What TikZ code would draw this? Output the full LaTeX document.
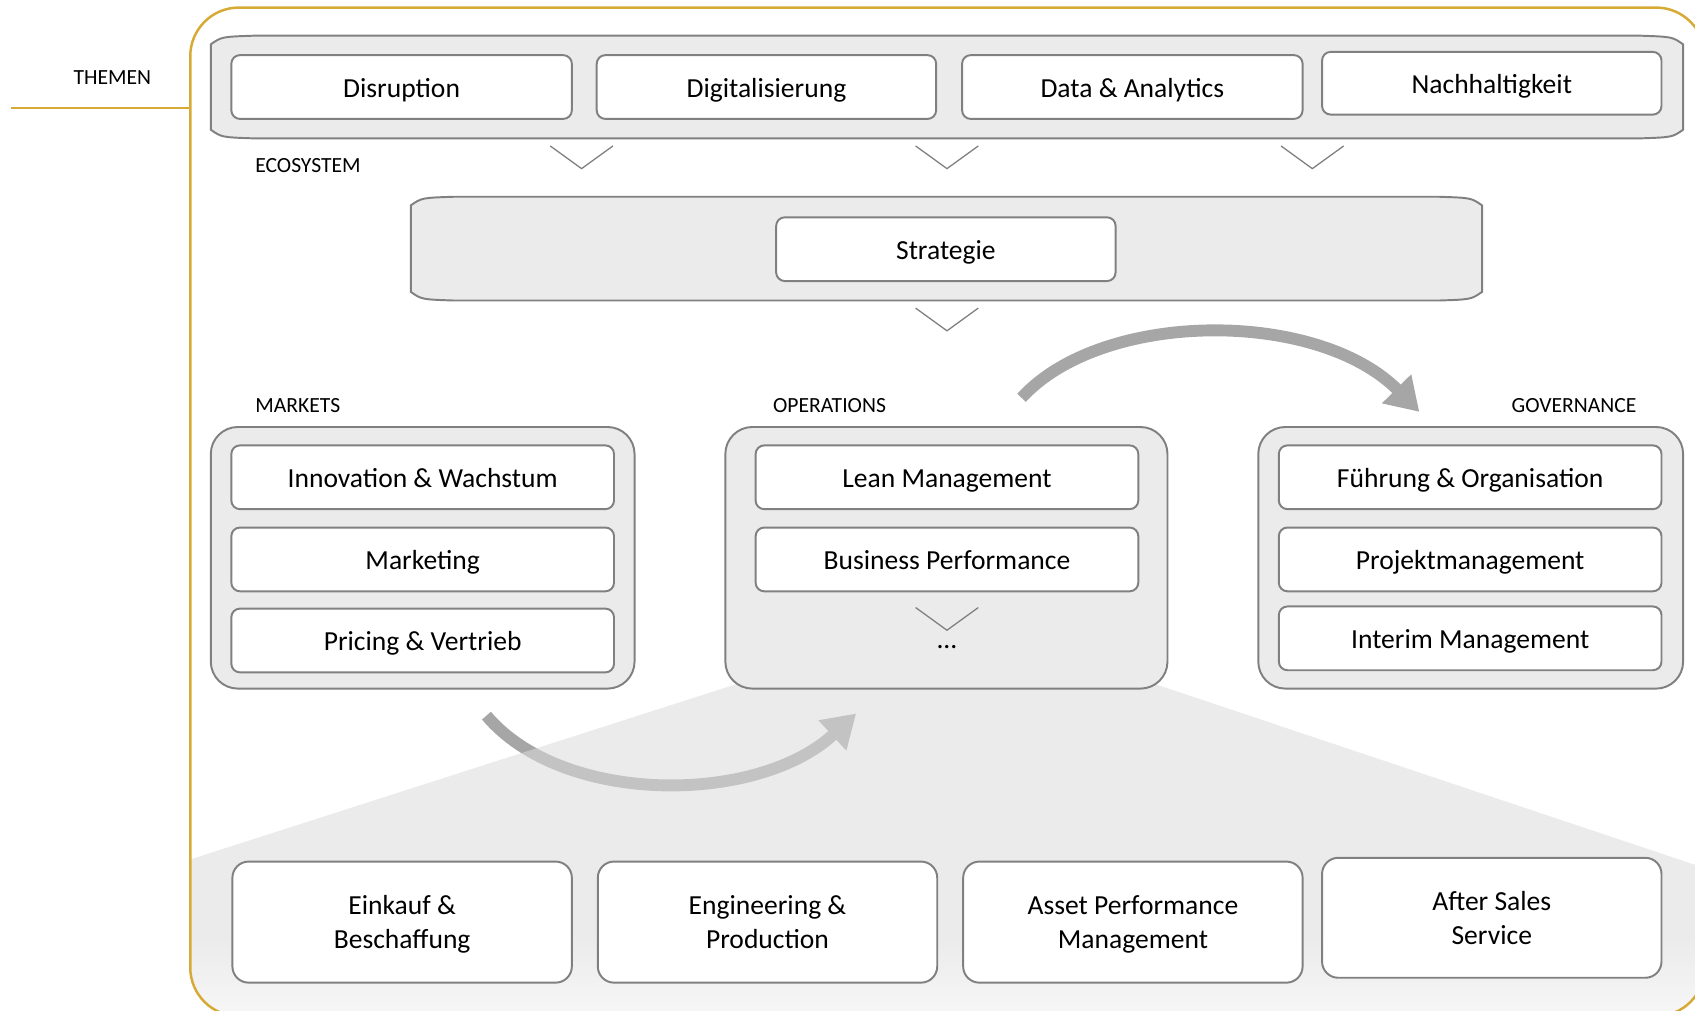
\documentclass[tikz,border=0pt]{standalone}
\usepackage{fontspec}
\setmainfont{Carlito}
\usetikzlibrary{arrows.meta}

\definecolor{gold}{RGB}{214,170,52}
\definecolor{rim}{RGB}{128,128,128}
\definecolor{pane}{RGB}{235,235,235}
\definecolor{arc}{RGB}{166,166,166}
\definecolor{fan}{RGB}{219,219,219}

% grey band with pinched ends: \tapeband{x0}{y0}{x1}{y1}
\newcommand{\tapeband}[4]{%
  \draw[rim, fill=pane, line width=1.8] (#1,#2+8) .. controls (#1+10,#2+1) .. (#1+40,#2) -- (#3-40,#2)
    .. controls (#3-10,#2+1) .. (#3,#2+8) -- (#3,#4-8) .. controls (#3-10,#4-1) .. (#3-40,#4)
    -- (#1+40,#4) .. controls (#1+10,#4-1) .. (#1,#4-8) -- cycle;}

\begin{document}
\begin{tikzpicture}[x=1pt, y=-1pt,
    item/.style={draw=rim, fill=white, line width=1.8, rounded corners=8, minimum height=59, inner sep=0,
      text height=19, text depth=0, font=\fontsize{25.5}{30}\selectfont},
    tile/.style={draw=rim, fill=white, line width=1.8, rounded corners=15, minimum width=314, minimum height=112,
      inner sep=0, align=center, text depth=0, font=\fontsize{25.5}{31}\selectfont},
    pool/.style={draw=rim, fill=pane, line width=1.8, rounded corners=25, minimum height=242, inner sep=0},
    tag/.style={font=\fontsize{20}{24}\selectfont, inner sep=0},
    flow/.style={arc, line width=11, -{Triangle[length=30pt,width=36pt]}},
    chev/.pic={\draw[rim, line width=1.2] (-29,0) -- (0,21) -- (29,0);}]
	\path[use as bounding box, clip] (0,0) rectangle (1568,935);

	% arrow below, partly veiled by the fan
	\coordinate (b1) at (450,662);
	\coordinate (b2) at (792,660);
	\draw[flow] (b1) .. controls (520,745) and (700,745) .. (b2);

	% fan opening from operations to the process row
	\begin{scope}
		\clip[rounded corners=45] (176,7) rectangle (1577,940);
		\fill[fan, fill opacity=.55] (690,630) -- (176,795) -- (176,945) -- (1580,945) -- (1580,804) -- (1060,630) -- cycle;
		\shade[top color=pane, bottom color=black!3] (170,868) rectangle (1585,945);
	\end{scope}

	% frame
	\draw[gold, line width=2.3, rounded corners=45] (176,7) rectangle (1577,940);
	\node[tag] (themen) at (104,72) {THEMEN};
	\coordinate (rule) at (10,100);
	\draw[gold, line width=2.3] (rule) -- (176,100);

	% themen
	\tapeband{195}{33}{1557}{128}
	\node[item, minimum width=315] (disr) at (371.5,80.5) {Disruption};
	\node[item, minimum width=314] (digi) at (709,80.5) {Digitalisierung};
	\node[item, minimum width=315] (data) at (1047.5,80.5) {Data \& Analytics};
	\node[item, minimum width=314, minimum height=58] (nach) at (1380,77) {Nachhaltigkeit};
	\pic at (538,135) {chev};
	\pic at (876,135) {chev};
	\pic at (1214,135) {chev};
	\node[tag, anchor=west] (eco) at (236,153) {ECOSYSTEM};

	% strategie
	\tapeband{380}{182}{1371}{278}
	\node[item, minimum width=314] (strat) at (875,230.5) {Strategie};
	\pic at (876,285) {chev};

	% markets
	\node[tag, anchor=west] (mkttag) at (236,375) {MARKETS};
	\node[pool, minimum width=392] (mkt) at (391,516) {};
	\node[item, minimum width=354] (inno) at (391,441.5) {Innovation \& Wachstum};
	\node[item, minimum width=354] (mark) at (391,517.5) {Marketing};
	\node[item, minimum width=354] (pric) at (391,592.5) {Pricing \& Vertrieb};

	% operations
	\node[tag, anchor=west] (opstag) at (715,375) {OPERATIONS};
	\node[pool, minimum width=409] (ops) at (875.5,516) {};
	\node[item, minimum width=354] (lean) at (876,441.5) {Lean Management};
	\node[item, minimum width=354] (busi) at (876,517.5) {Business Performance};
	\pic at (876,562) {chev};
	\node[font=\fontsize{25.5}{30}\selectfont, inner sep=0, anchor=base] (more) at (876,600) {...};

	% governance
	\node[tag, anchor=east] (govtag) at (1514,375) {GOVERNANCE};
	\node[pool, minimum width=393] (gov) at (1360.5,516) {};
	\node[item, minimum width=354] (fuhr) at (1360,441.5) {Führung \& Organisation};
	\node[item, minimum width=354] (proj) at (1360,517.5) {Projektmanagement};
	\node[item, minimum width=354] (inte) at (1360,590.5) {Interim Management};

	% arrow from operations over to governance
	\coordinate (a1) at (945,368);
	\coordinate (a2) at (1313,381);
	\draw[flow] (a1) .. controls (1020,286) and (1219,286) .. (a2);

	% process row
	\node[tile] (eink) at (372,853) {Einkauf \&\\Beschaffung};
	\node[tile] (engi) at (710,853) {Engineering \&\\Production};
	\node[tile] (asse) at (1048,853) {Asset Performance\\Management};
	\node[tile, minimum height=111] (afte) at (1380,849) {After Sales\\Service};
\end{tikzpicture}
\end{document}
